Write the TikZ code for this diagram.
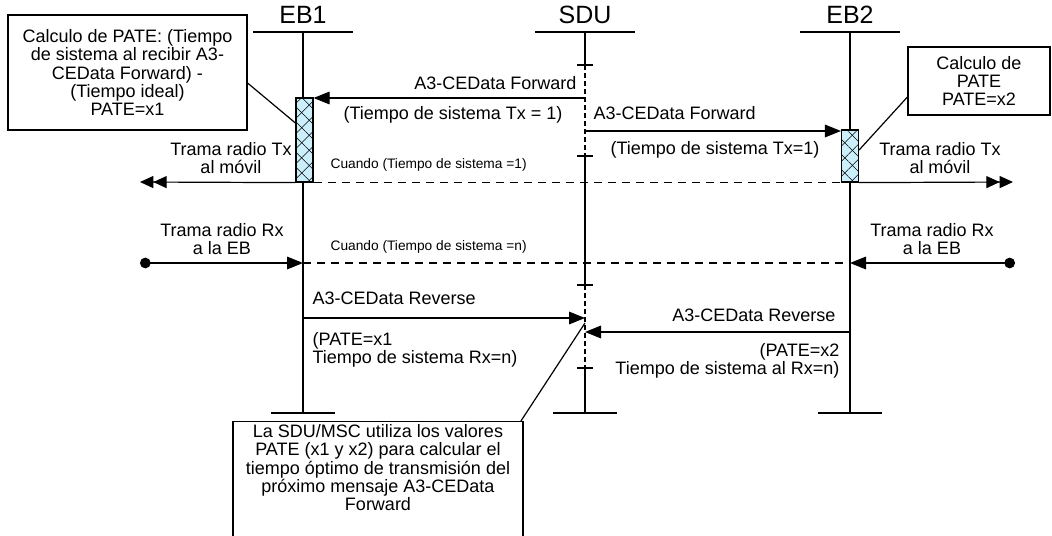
\documentclass[tikz,border=0pt]{standalone}
\usepackage{fontspec}
\setmainfont{Liberation Sans}
\usetikzlibrary{arrows.meta,patterns.meta,positioning}

\begin{document}
\begin{tikzpicture}
  [x=0.75pt,y=-0.75pt,line width=0.9pt,
   every node/.style={inner sep=0pt,font=\fontsize{13.5}{13.8}\selectfont},
   head/.style={font=\fontsize{18.75}{19}\selectfont},
   small/.style={font=\fontsize{10.3}{11}\selectfont},
   note/.style={draw,fill=white,align=center},
   hatch/.style={draw,fill=cyan!20,minimum width=12.75pt,
     postaction={pattern={Lines[angle=45,distance=8pt,line width=0.4pt]}},
     postaction={pattern={Lines[angle=-45,distance=8pt,line width=0.4pt]}}},
   msg/.style={-{Triangle[length=12pt,width=9.5pt]}},
   dmsg/.style={-{Triangle[length=10pt,width=9pt]Triangle[length=10pt,width=9pt]}},
   rxmsg/.style={{Circle[length=8pt]}-{Triangle[length=12pt,width=9.5pt]}},
   when/.style={dash pattern=on 6pt off 4.5pt}]
  \useasboundingbox (0,0) rectangle (1052,535);
  \clip (0,0) rectangle (1052,535);

  % entities
  \node[head] (eb1) at (303,15) {EB1};
  \node[head] (sdu) at (585,15) {SDU};
  \node[head] (eb2) at (850,15) {EB2};
  \foreach \x in {303,585,850}
    \draw (\x-50,32) -- (\x+50,32);
  \foreach \x in {303,585,850}
    \draw (\x-32,413) -- (\x+32,413);

  % lifelines
  \coordinate (eb1t) at (303,32);  \coordinate (eb1b) at (303,413);
  \coordinate (eb2t) at (850,32);  \coordinate (eb2b) at (850,413);
  \coordinate (sdut) at (585,32);  \coordinate (sdu1) at (585,65);
  \coordinate (sdu2) at (585,156); \coordinate (sdu3) at (585,285);
  \coordinate (sdu4) at (585,368); \coordinate (sdub) at (585,413);
  \draw (eb1t) -- (eb1b);
  \draw (eb2t) -- (eb2b);
  \draw (sdut) -- (sdu1);
  \draw[dash pattern=on 3.5pt off 2.5pt] (sdu1) -- (sdu2);
  \draw (sdu2) -- (sdu3);
  \draw[dash pattern=on 3.5pt off 2.5pt] (sdu3) -- (sdu4);
  \draw (sdu4) -- (sdub);
  \foreach \y in {65,156,285,368}
    \draw (577,\y) -- (593,\y);

  % PATE boxes
  \node[hatch,minimum height=63pt] (bx1) at (304.5,140) {};
  \node[hatch,minimum height=39pt] (bx2) at (850,156) {};

  % A3-CEData Forward
  \coordinate (fw1) at (585,98);
  \coordinate (fw2) at (585,131);
  \draw[msg] (fw1) -- (bx1.east |- fw1);
  \draw[msg] (fw2) -- (bx2.west |- fw2);
  \node[anchor=east] (lfw1) at (577,83) {A3-CEData Forward};
  \node (lt1) at (453,115) {(Tiempo de sistema Tx = 1)};
  \node[anchor=west] (lfw2) at (593,113) {A3-CEData Forward};
  \node[anchor=west] (lt2) at (610,150) {(Tiempo de sistema Tx=1)};

  % Tx
  \coordinate (tx1) at (140,182);
  \coordinate (tx2) at (1013,182);
  \draw[dmsg] (bx1.south west) -- (tx1);
  \draw[dmsg] (bx2.south east) -- (tx2);
  \draw[when] (bx1.south east) -- (bx2.south west);
  \node[align=center] (ltx1) at (231,158) {Trama radio Tx\\al móvil};
  \node[align=center] (ltx2) at (940,158) {Trama radio Tx\\al móvil};
  \node[small,anchor=west] (c1) at (330,165) {Cuando (Tiempo de sistema =1)};

  % Rx
  \coordinate (rx1) at (140,263);  \coordinate (eb1rx) at (303,263);
  \coordinate (rx2) at (1015,263); \coordinate (eb2rx) at (850,263);
  \draw[rxmsg] (rx1) -- (eb1rx);
  \draw[rxmsg] (rx2) -- (eb2rx);
  \draw[when] (eb1rx) -- (eb2rx);
  \node[align=center] (lrx1) at (222,239) {Trama radio Rx\\a la EB};
  \node[align=center] (lrx2) at (932,239) {Trama radio Rx\\a la EB};
  \node[small,anchor=west] (c2) at (330,247) {Cuando (Tiempo de sistema =n)};

  % A3-CEData Reverse
  \coordinate (rv1) at (303,318); \coordinate (sdurv1) at (585,318);
  \coordinate (rv2) at (850,332); \coordinate (sdurv2) at (585,332);
  \draw[msg] (rv1) -- (sdurv1);
  \draw[msg] (rv2) -- (sdurv2);
  \node[anchor=west] (lrv1) at (312,298) {A3-CEData Reverse};
  \node[anchor=west,align=left] (lp1) at (312,350) {(PATE=x1\\Tiempo de sistema Rx=n)};
  \node[anchor=east] (lrv2) at (836,315) {A3-CEData Reverse};
  \node[anchor=east,align=right] (lp2) at (840,361) {(PATE=x2\\Tiempo de sistema al Rx=n)};

  % notes
  \node[note,minimum width=179.25pt,minimum height=86.25pt] (calc1) at (127.5,72.5)
    {Calculo de PATE: (Tiempo\\de sistema al recibir A3-\\CEData Forward) -\\(Tiempo ideal)\\PATE=x1};
  \node[note,minimum width=106.5pt,minimum height=51pt] (calc2) at (979,81)
    {Calculo de\\PATE\\PATE=x2};
  \node[note,anchor=north,minimum width=217.5pt,inner ysep=2pt,text depth=40pt] (msc) at (378,421)
    {La SDU/MSC utiliza los valores\\PATE (x1 y x2) para calcular el\\tiempo óptimo de transmisión del\\próximo mensaje A3-CEData\\Forward};
  \coordinate (sdun) at (585,323);
  \draw ([yshift=-7.9pt]calc1.east) -- ([yshift=12.75pt]bx1.west);
  \draw ([yshift=-12pt]calc2.west) -- ([yshift=4.5pt]bx2.east);
  \draw ([xshift=-2pt]msc.north east) -- (sdun);
\end{tikzpicture}
\end{document}
